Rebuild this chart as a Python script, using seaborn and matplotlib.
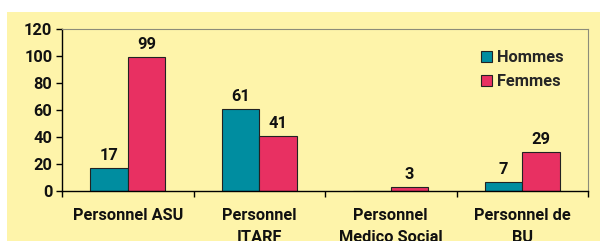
import pandas as pd
import numpy as np
import seaborn as sns
import matplotlib.pyplot as plt
from matplotlib.patches import Rectangle

# data
categories = ['Personnel ASU', 'Personnel\nITARF', 'Personnel\nMedico Social', 'Personnel de\nBU']
hommes = [17, 61, 0, 7]
femmes = [99, 41, 3, 29]
series = ['Hommes', 'Femmes']

df = pd.DataFrame({
    'cat': categories * 2,
    'val': hommes + femmes,
    'sexe': [series[0]] * 4 + [series[1]] * 4,
})

sns.set_style('white')
plt.rcParams['font.family'] = ['Roboto', 'DejaVu Sans']
FS = 11.8
W = 'bold'

fig = plt.figure(figsize=(6, 2.41), dpi=100)
fig.patch.set_facecolor('white')
fig.patches.append(Rectangle((7 / 600, 0), 1, (241 - 12) / 241, transform=fig.transFigure,
                             facecolor='#FEF4AA', edgecolor='none', zorder=-10))
ax = fig.add_axes([62 / 600, 50 / 241, 526 / 600, 162 / 241])
ax.set_facecolor('none')

sns.barplot(data=df, x='cat', y='val', hue='sexe', ax=ax,
            palette=['#008DA0', '#E83062'], width=0.57, saturation=1,
            edgecolor='#222222', linewidth=0.8, gap=0)

for cont in ax.containers:
    labs = [str(int(v)) if v > 0 else '' for v in cont.datavalues]
    ax.bar_label(cont, labels=labs, padding=3.5, fontsize=FS, fontweight=W, color='#111111')

ax.set_ylim(0, 120)
ax.set_yticks(range(0, 121, 20))
ax.set_xlim(-0.5, 3.5)
ax.set_xlabel('')
ax.set_ylabel('')
ax.set_xticks(range(4))
ax.set_xticklabels(categories, fontsize=FS, fontweight=W, color='#111111', linespacing=1.65)
ax.set_xticks(np.arange(-0.5, 3.6, 1), minor=True)
ax.tick_params(axis='x', which='major', length=0, pad=12)
ax.tick_params(axis='x', which='minor', length=4, width=1, color='black', direction='out', bottom=True)
ax.tick_params(axis='y', length=4, width=1, color='black', direction='out', left=True, pad=3,
               labelsize=FS)
for t in ax.get_yticklabels():
    t.set_fontweight(W)
    t.set_color('#111111')

for s in ['left', 'bottom']:
    ax.spines[s].set_color('black')
    ax.spines[s].set_linewidth(1)
for s in ['top', 'right']:
    ax.spines[s].set_color('#8C8C7A')
    ax.spines[s].set_linewidth(0.8)

leg = ax.legend(loc='upper left', bbox_to_anchor=(0.797, 0.87), frameon=False,
                fontsize=FS, handlelength=0.65, handleheight=0.65, handletextpad=0.3,
                labelspacing=0.55, borderaxespad=0.0, borderpad=0)
for t in leg.get_texts():
    t.set_fontweight(W)

fig.savefig('out.png', dpi=100)
